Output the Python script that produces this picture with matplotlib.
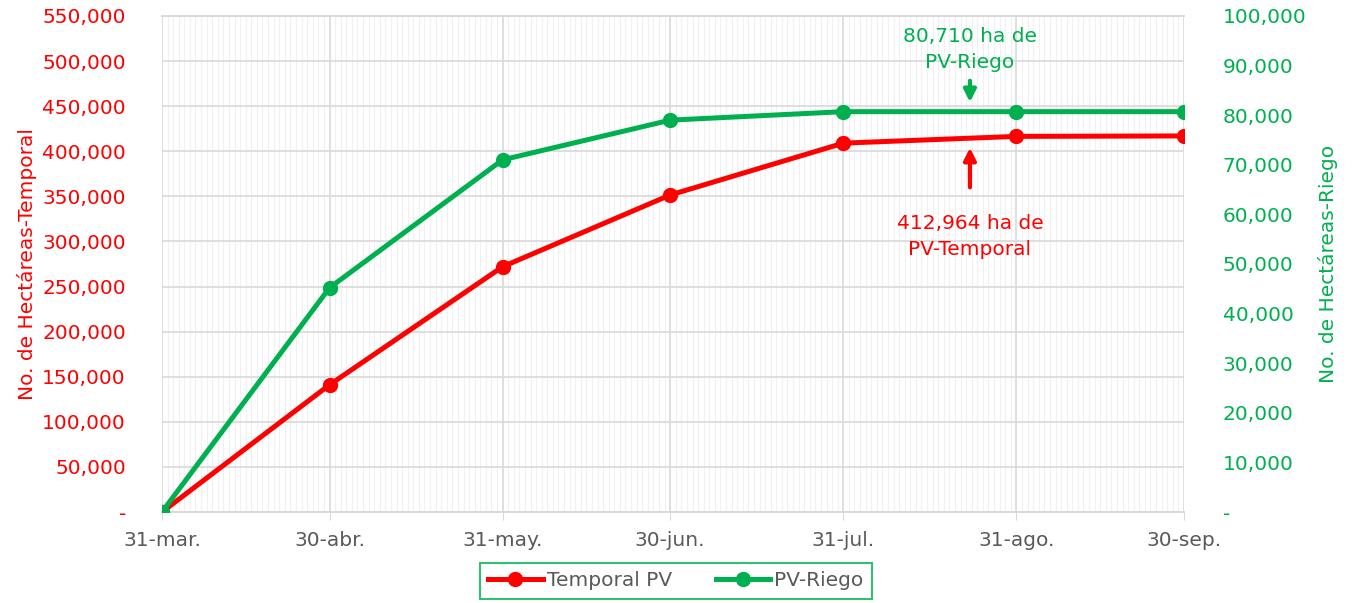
import numpy as np
import matplotlib
matplotlib.use("Agg")
import matplotlib.pyplot as plt
import matplotlib.dates as mdates
from matplotlib.ticker import FixedLocator, FuncFormatter

plt.rcParams['font.family'] = ['DejaVu Sans']

# datos
fechas = np.array(['2023-03-31', '2023-04-30', '2023-05-31', '2023-06-30',
                   '2023-07-31', '2023-08-31', '2023-09-30'], dtype='datetime64[D]')
etiquetas_x = ['31-mar.', '30-abr.', '31-may.', '30-jun.', '31-jul.', '31-ago.', '30-sep.']
temporal_pv = [0, 141000, 272000, 351500, 409000, 416500, 417000]
pv_riego = [0, 45200, 71000, 79000, 80710, 80710, 80710]

rojo = '#FF0000'
verde = '#00B050'
gris = '#595959'
fs = 14.5

fig = plt.figure(figsize=(13.52, 6.03), dpi=100)
ax = fig.add_axes([0.1198, 0.1509, 0.7559, 0.8226])
ax2 = ax.twinx()

x = fechas.astype('O')
ax.plot(x, temporal_pv, color=rojo, lw=3.6, marker='o', ms=10, label='Temporal PV', zorder=3)
ax2.plot(x, pv_riego, color=verde, lw=3.6, marker='o', ms=10, label='PV-Riego', zorder=3)

ax.set_xlim(x[0], x[-1])
ax.set_ylim(0, 550000)
ax2.set_ylim(0, 100000)
ax.set_yticks(np.arange(0, 550001, 50000))
ax2.set_yticks(np.arange(0, 100001, 10000))

fmt = FuncFormatter(lambda v, p: '-' if v == 0 else f'{v:,.0f}')
ax.yaxis.set_major_formatter(fmt)
ax2.yaxis.set_major_formatter(fmt)

ax.xaxis.set_major_locator(FixedLocator(mdates.date2num(x)))
ax.set_xticklabels(etiquetas_x)
ax.xaxis.set_minor_locator(mdates.DayLocator())

ax.grid(True, which='major', color='#d9d9d9', lw=1.2)
ax.grid(True, which='minor', axis='x', color='#f0f0f0', lw=0.8)
ax.set_axisbelow(True)

for a in (ax, ax2):
    for s in a.spines.values():
        s.set_color('#d9d9d9')
        s.set_linewidth(1.2)
    a.spines['left'].set_visible(False)
    a.spines['right'].set_visible(False)

ax.tick_params(axis='y', length=0, labelsize=fs, labelcolor=rojo, pad=26)
ax2.tick_params(axis='y', length=0, labelsize=fs, labelcolor=verde, pad=28)
ax.tick_params(axis='x', which='major', length=6, color='#d9d9d9', labelsize=fs,
               labelcolor=gris, pad=8)
ax.tick_params(axis='x', which='minor', length=0)

ax.set_ylabel('No. de Hectáreas-Temporal', color=rojo, fontsize=fs, labelpad=4)
ax2.set_ylabel('No. de Hectáreas-Riego', color=verde, fontsize=fs, labelpad=8)

# anotaciones
ax.annotate('', xy=(0.7906, 0.8206), xytext=(0.7906, 0.875), xycoords='axes fraction',
            arrowprops=dict(arrowstyle='-|>', color=verde, lw=3, mutation_scale=18))
ax.text(0.7906, 0.932, '80,710 ha de\nPV-Riego', transform=ax.transAxes, ha='center',
        va='center', color=verde, fontsize=fs, linespacing=1.45)
ax.annotate('', xy=(0.7906, 0.740), xytext=(0.7906, 0.649), xycoords='axes fraction',
            arrowprops=dict(arrowstyle='-|>', color=rojo, lw=3, mutation_scale=18))
ax.text(0.7906, 0.556, '412,964 ha de\nPV-Temporal', transform=ax.transAxes, ha='center',
        va='center', color=rojo, fontsize=fs, linespacing=1.45)

h1, l1 = ax.get_legend_handles_labels()
h2, l2 = ax2.get_legend_handles_labels()
leg = fig.legend(h1 + h2, l1 + l2, loc='center', bbox_to_anchor=(0.5, 0.0365), ncol=2,
                 fontsize=fs, frameon=True, fancybox=False, borderpad=0.4,
                 handlelength=2.7, handletextpad=0.2, columnspacing=2.2,
                 borderaxespad=0)
leg.get_frame().set_edgecolor(verde)
leg.get_frame().set_linewidth(1.5)
for t in leg.get_texts():
    t.set_color(gris)

fig.savefig('out.png', dpi=100)
